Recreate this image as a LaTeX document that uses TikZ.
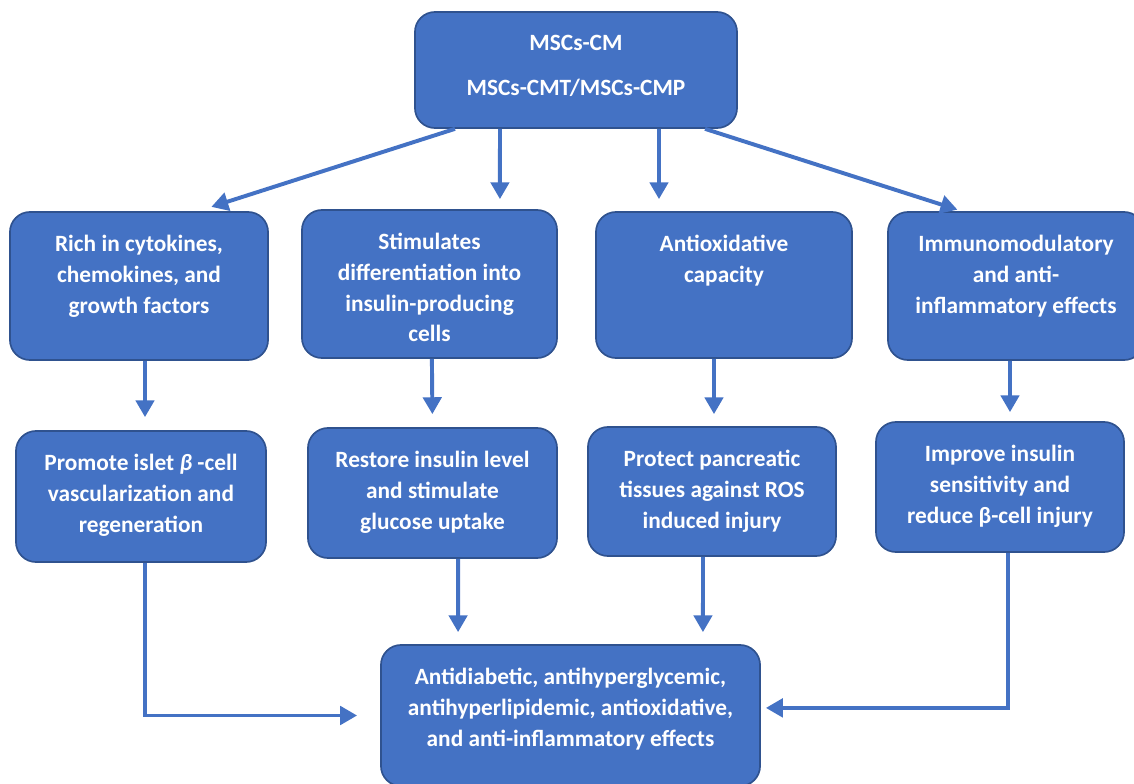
\documentclass[tikz,border=0pt]{standalone}
\usepackage{fontspec}
\setmainfont{Carlito}
\usetikzlibrary{arrows.meta,positioning}
\definecolor{boxblue}{HTML}{4472C4}
\definecolor{edgeblue}{HTML}{2F528F}

\begin{document}
\begin{tikzpicture}[x=0.025cm,y=-0.025cm,
    box/.style={rectangle,rounded corners=0.5cm,draw=edgeblue,line width=1.2pt,fill=boxblue},
    txt/.style={anchor=north,inner sep=0pt,align=center,text=white,
      font=\fontsize{16.6}{21.8}\selectfont\bfseries},
    arr/.style={draw=boxblue,line width=2.8pt,-{Triangle[length=12pt,width=13pt]}}]
  \useasboundingbox (0,0) rectangle (1134,784);
  \clip (0,0) rectangle (1134,784);

  % boxes
  \begin{scope}[every node/.style={box}]
    \node[minimum width=8.05cm,minimum height=2.9cm] (top) at (576,70) {};
    \node[minimum width=6.45cm,minimum height=3.7cm] (rich) at (139,286) {};
    \node[minimum width=6.375cm,minimum height=3.7cm] (stim) at (429.5,284) {};
    \node[minimum width=6.4cm,minimum height=3.65cm] (antiox) at (724,285) {};
    \node[minimum width=6.4cm,minimum height=3.7cm] (immuno) at (1016,286) {};
    \node[minimum width=6.25cm,minimum height=3.275cm] (prom) at (141,496.5) {};
    \node[minimum width=6.225cm,minimum height=3.25cm] (rest) at (432.5,493) {};
    \node[minimum width=6.2cm,minimum height=3.225cm] (prot) at (712,491.5) {};
    \node[minimum width=6.2cm,minimum height=3.25cm] (impr) at (1000,487) {};
    \node[minimum width=9.475cm,minimum height=3.525cm] (eff) at (570.5,715.5) {};
  \end{scope}

  % texts
  \begin{scope}[every node/.style={txt}]
    \node (top-t) at ([yshift=-0.6cm]top.north) {MSCs-CM\\[10pt]MSCs-CMT/MSCs-CMP};
    \node (rich-t) at ([yshift=-0.6cm]rich.north) {Rich in cytokines,\\chemokines, and\\growth factors};
    \node (stim-t) at ([yshift=-0.6cm]stim.north) {Stimulates\\differentiation into\\insulin-producing\\cells};
    \node (antiox-t) at ([yshift=-0.6cm]antiox.north) {Antioxidative\\capacity};
    \node (immuno-t) at ([yshift=-0.6cm]immuno.north) {Immunomodulatory\\and anti-\\inflammatory effects};
    \node (prom-t) at ([yshift=-0.6cm]prom.north) {Promote islet {\itshape β} -cell\\vascularization and\\regeneration};
    \node (rest-t) at ([yshift=-0.6cm]rest.north) {Restore insulin level\\and stimulate\\glucose uptake};
    \node (prot-t) at ([yshift=-0.6cm]prot.north) {Protect pancreatic\\tissues against ROS\\induced injury};
    \node (impr-t) at ([yshift=-0.6cm]impr.north) {Improve insulin\\sensitivity and\\reduce β-cell injury};
    \node (eff-t) at ([yshift=-0.6cm]eff.north) {Antidiabetic, antihyperglycemic,\\antihyperlipidemic, antioxidative,\\and anti-inflammatory effects};
  \end{scope}

  % arrows
  \draw[arr,shorten >=0.35cm] ([xshift=-3.025cm]top.south) -- ([xshift=1.475cm]rich.north);
  \draw[arr,shorten >=0.25cm] ([xshift=-1.9cm]top.south) -- ([xshift=1.76cm]stim.north);
  \draw[arr,shorten >=0.3cm] ([xshift=2.075cm]top.south) -- ([xshift=-1.625cm]antiox.north);
  \draw[arr,shorten >=0.12cm] ([xshift=3.225cm]top.south) -- ([xshift=-1.35cm]immuno.north);
  \draw[arr,shorten >=0.325cm] ([xshift=0.15cm]rich.south) -- ([xshift=0.1cm]prom.north);
  \draw[arr,shorten >=0.325cm] ([xshift=0.06cm]stim.south) -- ([xshift=0cm]rest.north);
  \draw[arr,shorten >=0.3cm] ([xshift=-0.25cm]antiox.south) -- ([xshift=0.05cm]prot.north);
  \draw[arr,shorten >=0.225cm] ([xshift=-0.15cm]immuno.south) -- ([xshift=0.25cm]impr.north);
  \draw[arr,shorten >=0.575cm] ([xshift=0.1cm]prom.south) |- (eff.west);
  \draw[arr,shorten >=0.3cm] ([xshift=0.64cm]rest.south) -- ([xshift=-2.81cm]eff.north);
  \draw[arr,shorten >=0.3cm] ([xshift=-0.225cm]prot.south) -- ([xshift=3.31cm]eff.north);
  \draw[arr,shorten >=0.125cm] ([xshift=0.2cm]impr.south) |- ([yshift=0.19cm]eff.east);
\end{tikzpicture}
\end{document}
